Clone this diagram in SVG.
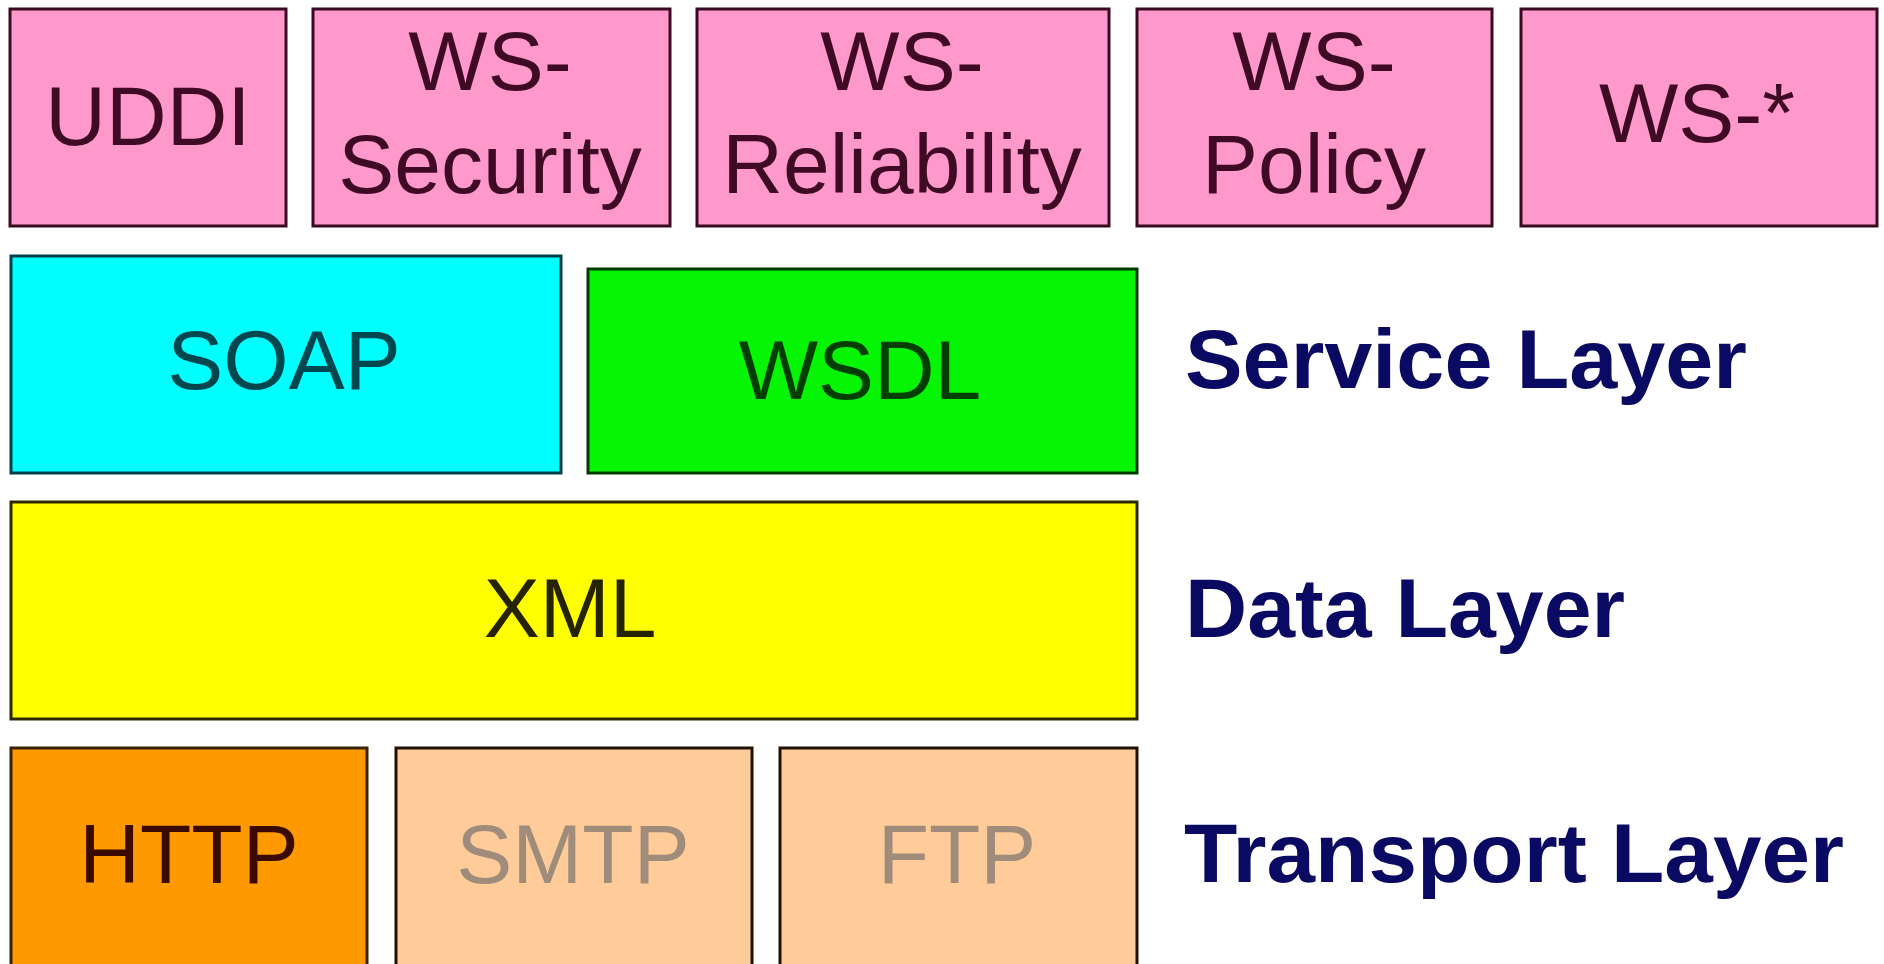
<svg xmlns="http://www.w3.org/2000/svg" width="1884" height="964" viewBox="0 0 1884 964">
<style>
text{font-family:"Liberation Sans",Arial,sans-serif;font-size:84px;text-anchor:middle}
.box{stroke-width:3}
.pink{fill:#FF99CC;stroke:#3A0A22}
.pt{fill:#3F0A24}
.lbl{font-weight:bold;fill:#0A0A62;text-anchor:start}
</style>
<rect width="1884" height="964" fill="#FFFFFF"/>
<g id="connectors"></g>
<g id="uddi"><rect class="box pink" x="10" y="9" width="276" height="217"/><text class="pt" x="148" y="145">UDDI</text></g>
<g id="ws-security"><rect class="box pink" x="313" y="9" width="357" height="217"/><text class="pt" x="490" y="90">WS-</text><text class="pt" x="490" y="193">Security</text></g>
<g id="ws-reliability"><rect class="box pink" x="697" y="9" width="412" height="217"/><text class="pt" x="902" y="90">WS-</text><text class="pt" x="902" y="193">Reliability</text></g>
<g id="ws-policy"><rect class="box pink" x="1137" y="9" width="355" height="217"/><text class="pt" x="1314" y="90">WS-</text><text class="pt" x="1314" y="193">Policy</text></g>
<g id="ws-star"><rect class="box pink" x="1521" y="9" width="356" height="217"/><text class="pt" x="1697" y="142">WS-*</text></g>
<g id="soap"><rect class="box" x="11" y="256" width="550" height="217" fill="#00FFFF" stroke="#00404A"/><text x="284" y="389" fill="#00474F">SOAP</text></g>
<g id="wsdl"><rect class="box" x="588" y="269" width="549" height="204" fill="#05F505" stroke="#003A00"/><text x="860" y="399" fill="#003F00">WSDL</text></g>
<g id="service-layer"><text class="lbl" x="1185" y="388" textLength="562" lengthAdjust="spacingAndGlyphs">Service Layer</text></g>
<g id="xml"><rect class="box" x="11" y="502" width="1126" height="217" fill="#FFFF00" stroke="#2E2800"/><text x="570" y="637" fill="#262300">XML</text></g>
<g id="data-layer"><text class="lbl" x="1185" y="637" textLength="440" lengthAdjust="spacingAndGlyphs">Data Layer</text></g>
<g id="http"><rect class="box" x="11" y="748" width="356" height="230" fill="#FF9900" stroke="#3A2200"/><text x="189" y="883" fill="#3A0A00">HTTP</text></g>
<g id="smtp"><rect class="box" x="396" y="748" width="356" height="230" fill="#FFCC99" stroke="#201000"/><text x="573" y="883" fill="#A08C7A">SMTP</text></g>
<g id="ftp"><rect class="box" x="780" y="748" width="357" height="230" fill="#FFCC99" stroke="#201000"/><text x="957" y="883" fill="#A08C7A">FTP</text></g>
<g id="transport-layer"><text class="lbl" x="1184" y="882" textLength="660" lengthAdjust="spacingAndGlyphs">Transport Layer</text></g>
</svg>
